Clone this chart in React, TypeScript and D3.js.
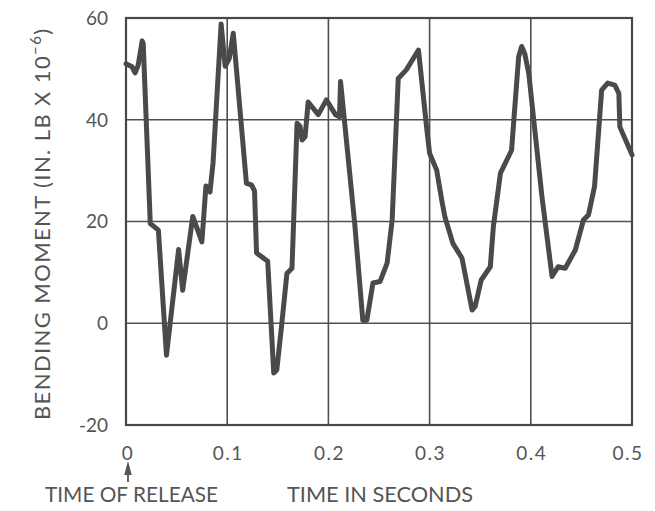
import React from "react";
import * as d3 from "d3";

// Time after release (s) and bending moment (in.-lb x 10^-6)
const times = [
  0.0, 0.006, 0.009, 0.012, 0.016, 0.017, 0.024, 0.032, 0.04, 0.052, 0.056, 0.066,
  0.075, 0.079, 0.083, 0.086, 0.094, 0.098, 0.102, 0.106, 0.119, 0.124, 0.127, 0.129,
  0.136, 0.14, 0.146, 0.149, 0.154, 0.159, 0.164, 0.165, 0.169, 0.172, 0.174, 0.177,
  0.18, 0.19, 0.198, 0.207, 0.211, 0.212, 0.226, 0.234, 0.238, 0.244, 0.251, 0.258,
  0.263, 0.269, 0.277, 0.289, 0.297, 0.3, 0.307, 0.312, 0.315, 0.323, 0.332, 0.342,
  0.345, 0.351, 0.36, 0.363, 0.37, 0.381, 0.388, 0.391, 0.394, 0.398, 0.411, 0.421,
  0.427, 0.434, 0.444, 0.452, 0.457, 0.463, 0.47, 0.476, 0.483, 0.487, 0.488, 0.5,
];
const moments = [
  51, 50.4, 49.2, 50.7, 55.5, 55, 19.6, 18.3, -6.3, 14.5, 6.5, 21,
  16, 27, 25.8, 31.5, 58.8, 50.5, 52, 57, 27.5, 27.2, 26, 13.8,
  12.8, 12.2, -9.8, -9.2, 0, 9.8, 10.8, 16.4, 39.3, 38.7, 36, 36.7,
  43.5, 41, 43.9, 41, 40.6, 47.5, 19.6, 0.6, 0.6, 7.9, 8.2, 11.8,
  20.3, 48.1, 49.8, 53.7, 38.6, 33.4, 30.1, 24.2, 21, 15.7, 12.8, 2.6,
  3.3, 8.5, 11.1, 19, 29.5, 34, 52.4, 54.4, 53, 49.1, 24.9, 9.2,
  11.1, 10.8, 14.4, 20.3, 21.3, 26.9, 45.8, 47.2, 46.8, 45.2, 38.6, 33.1,
];
const xTicks = [0, 0.1, 0.2, 0.3, 0.4, 0.5];
const xTickLabels = ["0", "0.1", "0.2", "0.3", "0.4", "0.5"];
const yTicks = [-20, 0, 20, 40, 60];

const W = 655;
const H = 511;
const INK = "#4a4a4a";
const TEXT = "#555";
const FONT = "Lato, 'Open Sans', sans-serif";

export default function App() {
  const x = d3.scaleLinear().domain([0, 0.5]).range([126, 632]);
  const y = d3.scaleLinear().domain([-20, 60]).range([425, 18]);

  const pts: [number, number][] = times.map((t, i) => [t, moments[i]]);
  const line = d3
    .line<[number, number]>()
    .x((d) => x(d[0]))
    .y((d) => y(d[1]))
    .curve(d3.curveLinear);

  const x0 = x(0);

  return (
    <svg
      width={W}
      height={H}
      style={{ position: "absolute", left: 0, top: 0, background: "#fff" }}
      fontFamily={FONT}
    >
      {/* grid */}
      {xTicks.map((t) => (
        <line key={"gx" + t} x1={x(t)} x2={x(t)} y1={y(60)} y2={y(-20)} stroke="#505050" strokeWidth={1.6} />
      ))}
      {yTicks.map((v) => (
        <line key={"gy" + v} x1={x(0)} x2={x(0.5)} y1={y(v)} y2={y(v)} stroke="#505050" strokeWidth={1.6} />
      ))}
      <rect x={x(0)} y={y(60)} width={x(0.5) - x(0)} height={y(-20) - y(60)} fill="none" stroke="#474747" strokeWidth={2.2} />

      {/* bending moment trace */}
      <path d={line(pts) || ""} fill="none" stroke={INK} strokeWidth={5} strokeLinejoin="round" strokeLinecap="round" />

      {/* y tick labels */}
      {yTicks.map((v) => (
        <text key={"ly" + v} x={108} y={y(v)} dy="0.36em" textAnchor="end" fontSize={19} fill={TEXT}>
          {v < 0 ? "-" + Math.abs(v) : String(v)}
        </text>
      ))}

      {/* x tick labels */}
      {xTicks.map((t, i) => (
        <text key={"lx" + t} x={x(t) + (i === 0 ? 2 : i === 5 ? -4 : 1)} y={460} textAnchor="middle" fontSize={19} fill={TEXT} letterSpacing={1.5}>
          {xTickLabels[i]}
        </text>
      ))}

      {/* y axis title */}
      <text transform="translate(50,420) rotate(-90)" fontSize={22} fill={TEXT} letterSpacing={1.4}>
        <tspan>BENDING MOMENT (IN. LB X 10</tspan>
        <tspan fontSize={15} dy={-9}>−6</tspan>
        <tspan dy={9}>)</tspan>
      </text>

      {/* release marker */}
      <line x1={x0 + 2} x2={x0 + 2} y1={470} y2={482} stroke={TEXT} strokeWidth={1.8} />
      <path d={`M${x0 + 2},461 L${x0 - 1.8},475 L${x0 + 5.8},475 Z`} fill={TEXT} />

      <text x={45} y={502} fontSize={22} fill={TEXT} textLength={173} lengthAdjust="spacingAndGlyphs">
        TIME OF RELEASE
      </text>
      <text x={287} y={502} fontSize={22} fill={TEXT} textLength={186} lengthAdjust="spacingAndGlyphs">
        TIME IN SECONDS
      </text>
    </svg>
  );
}
